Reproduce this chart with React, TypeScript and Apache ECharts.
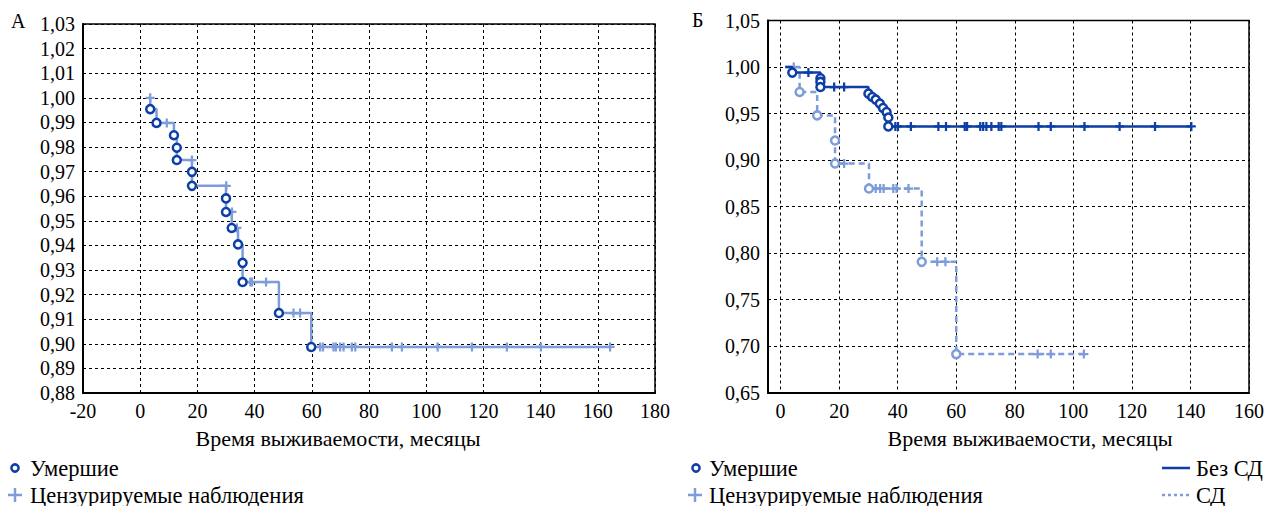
import React, { useEffect, useRef } from "react";
import * as echarts from "echarts";

// ---- Panel A (left) ----
const xTicksA = [-20, 0, 20, 40, 60, 80, 100, 120, 140, 160, 180];
const startA: [number, number] = [3.5, 1.0];
const deathsA: [number, number][] = [
  [3.5, 0.9954], [5.7, 0.9898], [11.8, 0.9848], [12.8, 0.9797], [12.8, 0.9747],
  [18.1, 0.9699], [18.1, 0.9642], [30.0, 0.9591], [30.0, 0.9536], [32.0, 0.9471],
  [34.2, 0.9404], [35.8, 0.9329], [35.8, 0.9251], [48.5, 0.9125], [59.8, 0.8987],
];
const censoredA: [number, number][] = [
  [3.5, 1.0], [9.3, 0.9898], [18.1, 0.9747], [30.1, 0.9642], [32.1, 0.9536],
  [33.8, 0.9471], [38.5, 0.9251], [39.1, 0.9251], [44.0, 0.9251], [53.6, 0.9125],
  [55.9, 0.9125], [62.9, 0.8987], [63.9, 0.8987], [67.6, 0.8987], [68.4, 0.8987],
  [69.9, 0.8987], [71.1, 0.8987], [74.0, 0.8987], [75.2, 0.8987], [88.0, 0.8987],
  [91.5, 0.8987], [104.0, 0.8987], [116.0, 0.8987], [128.2, 0.8987], [140.1, 0.8987],
  [164.3, 0.8987],
];

// ---- Panel Б (right) ----
const xTicksB = [0, 20, 40, 60, 80, 100, 120, 140, 160];
const startNoSD: [number, number] = [1.6, 1.0];
const deathsNoSD: [number, number][] = [
  [4.0, 0.994], [13.6, 0.988], [13.6, 0.984], [13.6, 0.9785], [30.0, 0.9714],
  [31.3, 0.9678], [32.5, 0.965], [33.9, 0.9607], [35.0, 0.956], [36.2, 0.9517],
  [36.8, 0.9457], [36.8, 0.9362],
];
const censoredNoSD: [number, number][] = [
  [9.5, 0.994], [18.3, 0.9785], [21.7, 0.9785], [39.2, 0.9362], [40.1, 0.9362],
  [44.5, 0.9362], [53.9, 0.9362], [56.5, 0.9362], [62.9, 0.9362], [63.7, 0.9362],
  [68.2, 0.9362], [69.2, 0.9362], [70.3, 0.9362], [72.0, 0.9362], [74.5, 0.9362],
  [75.4, 0.9362], [88.1, 0.9362], [92.3, 0.9362], [103.8, 0.9362], [115.8, 0.9362],
  [127.9, 0.9362], [140.3, 0.9362],
];
const startSD: [number, number] = [1.6, 1.0];
const deathsSD: [number, number][] = [
  [6.5, 0.9732], [12.5, 0.948], [18.6, 0.921], [18.6, 0.8963], [30.2, 0.8694],
  [48.2, 0.7906], [60.0, 0.6915],
];
const censoredSD: [number, number][] = [
  [4.5, 1.0], [21.7, 0.8963], [32.5, 0.8694], [34.0, 0.8694], [35.2, 0.8694],
  [38.5, 0.8694], [39.6, 0.8694], [43.7, 0.8694], [53.5, 0.7906], [56.3, 0.7906],
  [87.8, 0.6915], [92.3, 0.6915], [103.6, 0.6915],
];

const SERIF = "Liberation Serif";
const DARK = "#0c3ea6";
const LIGHT = "#7d9cd9";
const PLUS = "path://M3,0H5V3H8V5H5V8H3V5H0V3H3Z";

function curve(start: [number, number], deaths: [number, number][], cens: [number, number][]) {
  const pts: [number, number][] = [start, ...deaths];
  const lastT = Math.max(...cens.map((c) => c[0]));
  pts.push([lastT, deaths[deaths.length - 1][1]]);
  return pts;
}

const fmtY = (v: number) => v.toFixed(2).replace(".", ",");

export default function App() {
  const ref = useRef<HTMLDivElement>(null);
  useEffect(() => {
    if (!ref.current) return;
    document.body.style.margin = "0";
    document.body.style.overflow = "hidden";
    const chart = echarts.init(ref.current, undefined, { renderer: "svg" });
    const axisLabel = { fontFamily: SERIF, fontSize: 20, color: "#000" };
    const split = { show: true, lineStyle: { color: "#000", type: [3, 3] as any, width: 1 } };
    const axisLine = { show: true, onZero: false, lineStyle: { color: "#000", width: 2 } };
    const txt = (x: number, y: number, s: string, align = "left", size = 22.5) => ({
      type: "text",
      x,
      y,
      style: { text: s, fontFamily: SERIF, fontSize: size, fill: "#000", align, verticalAlign: "middle" },
    });
    const plus = (x: number, y: number, color: string) => ({
      type: "group",
      children: [
        { type: "line", shape: { x1: x - 7, y1: y, x2: x + 7, y2: y }, style: { stroke: color, lineWidth: 2.5 } },
        { type: "line", shape: { x1: x, y1: y - 7, x2: x, y2: y + 7 }, style: { stroke: color, lineWidth: 2.5 } },
      ],
    });
    const ring = (x: number, y: number) => ({
      type: "circle",
      shape: { cx: x, cy: y, r: 3.6 },
      style: { fill: "#fff", stroke: DARK, lineWidth: 2.5 },
    });
    const option: any = {
      animation: false,
      backgroundColor: "#fff",
      textStyle: { fontFamily: SERIF },
      grid: [
        { left: 83, top: 24, width: 572, height: 369, show: true, borderColor: "#000", borderWidth: 1.5 },
        { left: 768, top: 20.5, width: 485, height: 372.2, show: true, borderColor: "#000", borderWidth: 1.5 },
      ],
      xAxis: [
        {
          gridIndex: 0, type: "value", min: xTicksA[0], max: xTicksA[xTicksA.length - 1], interval: 20,
          axisLine, axisTick: { show: false }, axisLabel: { ...axisLabel, margin: 8 }, splitLine: split,
        },
        {
          gridIndex: 1, type: "value", min: -4.3, max: xTicksB[xTicksB.length - 1],
          axisLine, axisTick: { show: false, customValues: xTicksB },
          axisLabel: { ...axisLabel, margin: 8, customValues: xTicksB }, splitLine: split,
        },
      ],
      yAxis: [
        {
          gridIndex: 0, type: "value", min: 0.88, max: 1.03, interval: 0.01,
          axisLine, axisTick: { show: false }, axisLabel: { ...axisLabel, margin: 8, formatter: fmtY }, splitLine: split,
        },
        {
          gridIndex: 1, type: "value", min: 0.65, max: 1.05, interval: 0.05,
          axisLine, axisTick: { show: false }, axisLabel: { ...axisLabel, margin: 8, formatter: fmtY }, splitLine: split,
        },
      ],
      series: [
        {
          type: "line", xAxisIndex: 0, yAxisIndex: 0, step: "end", showSymbol: false,
          data: curve(startA, deathsA, censoredA), lineStyle: { color: LIGHT, width: 2.5 }, z: 3,
        },
        {
          type: "scatter", xAxisIndex: 0, yAxisIndex: 0, symbol: PLUS, symbolSize: 9,
          data: censoredA, itemStyle: { color: LIGHT, opacity: 1 }, z: 4,
        },
        {
          type: "scatter", xAxisIndex: 0, yAxisIndex: 0, symbol: "circle", symbolSize: 8,
          data: deathsA, itemStyle: { color: "#fff", borderColor: DARK, borderWidth: 2.5, opacity: 1 }, z: 5,
        },
        {
          type: "line", xAxisIndex: 1, yAxisIndex: 1, step: "end", showSymbol: false,
          data: curve(startSD, deathsSD, censoredSD), lineStyle: { color: LIGHT, width: 2.5, type: [6, 4] }, z: 3,
        },
        {
          type: "scatter", xAxisIndex: 1, yAxisIndex: 1, symbol: PLUS, symbolSize: 9,
          data: censoredSD, itemStyle: { color: LIGHT, opacity: 1 }, z: 4,
        },
        {
          type: "scatter", xAxisIndex: 1, yAxisIndex: 1, symbol: "circle", symbolSize: 8,
          data: deathsSD, itemStyle: { color: "#fff", borderColor: LIGHT, borderWidth: 2.5, opacity: 1 }, z: 5,
        },
        {
          type: "line", xAxisIndex: 1, yAxisIndex: 1, step: "end", showSymbol: false,
          data: curve(startNoSD, deathsNoSD, censoredNoSD), lineStyle: { color: DARK, width: 2.5 }, z: 6,
        },
        {
          type: "scatter", xAxisIndex: 1, yAxisIndex: 1, symbol: PLUS, symbolSize: 9,
          data: censoredNoSD, itemStyle: { color: DARK, opacity: 1 }, z: 7,
        },
        {
          type: "scatter", xAxisIndex: 1, yAxisIndex: 1, symbol: "circle", symbolSize: 8,
          data: deathsNoSD, itemStyle: { color: "#fff", borderColor: DARK, borderWidth: 2.5, opacity: 1 }, z: 8,
        },
      ],
      graphic: [
        txt(11, 21, "А", "left", 20),
        txt(692, 20, "Б", "left", 20),
        txt(338, 438, "Время выживаемости, месяцы", "center", 22),
        txt(1030, 438, "Время выживаемости, месяцы", "center", 22),
        ring(15, 468),
        txt(30, 468, "Умершие"),
        plus(15, 495, LIGHT),
        txt(30, 495, "Цензурируемые наблюдения"),
        ring(696, 468),
        txt(709, 468, "Умершие"),
        plus(695, 495, LIGHT),
        txt(709, 495, "Цензурируемые наблюдения"),
        { type: "line", shape: { x1: 1162, y1: 468, x2: 1190, y2: 468 }, style: { stroke: DARK, lineWidth: 2.5 } },
        txt(1196, 468, "Без СД"),
        { type: "line", shape: { x1: 1162, y1: 495, x2: 1190, y2: 495 }, style: { stroke: LIGHT, lineWidth: 2.5, lineDash: [3, 3] } },
        txt(1196, 495, "СД"),
      ],
    };
    chart.setOption(option);
    return () => chart.dispose();
  }, []);
  return <div ref={ref} style={{ width: 1267, height: 506 }} />;
}
